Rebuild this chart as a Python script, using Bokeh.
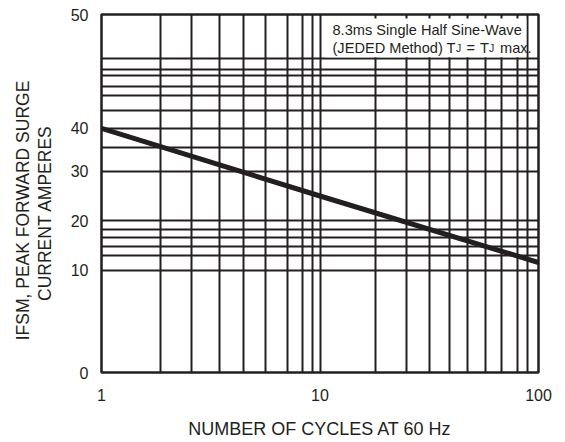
import numpy as np
from bokeh.plotting import figure
from bokeh.models import (Range1d, FixedTicker, Label, BoxAnnotation,
                          NumeralTickFormatter, LinearAxis)
from bokeh.embed import file_html
from bokeh.resources import INLINE

# ---- data ----
X_TICKS = [1, 10, 100]
X_GRID = [1.86, 2.58, 3.47, 4.47, 5.63, 7.10, 8.32, 9.24, 10,
          17.9, 24.9, 31.7, 39.1, 47.3, 57.2, 67.7, 80.2, 89.1]
Y_TICKS = [0, 10, 20, 30, 40, 50]
Y_GRID = [10, 13.0, 14.8, 16.6, 18.2, 20, 30, 35.6, 40,
          41.6, 42.9, 43.7, 44.6, 45.2, 46.1]
CURVE_X = [1, 10, 100]
CURVE_Y = [40, 25, 11.6]

# axis layout: where each labelled value sits on the (non-uniform) vertical scale
Y_TICK_POS = [0, 14.25, 21.2, 28.1, 34.1, 50]


def ypos(v):
    return [float(t) for t in np.atleast_1d(np.interp(v, Y_TICKS, Y_TICK_POS))]


INK = "#231f20"
SANS = "Liberation Sans"
NBSP = "\u00a0"

p = figure(x_axis_type="log", x_range=Range1d(1, 100), y_range=Range1d(0, 50),
           width=560, height=442,
           min_border_left=101, min_border_top=14, min_border_right=22, min_border_bottom=70,
           output_backend="svg", toolbar_location=None)
p.background_fill_color = "white"
p.border_fill_color = "white"
p.outline_line_color = INK
p.outline_line_width = 2.5
p.outline_line_alpha = 1.0

# grid
p.xgrid.ticker = FixedTicker(ticks=X_GRID, minor_ticks=[])
p.ygrid.ticker = FixedTicker(ticks=ypos(Y_GRID), minor_ticks=[])
for g in (p.xgrid, p.ygrid):
    g.grid_line_color = INK
    g.grid_line_width = 2
    g.grid_line_alpha = 1.0

xax = p.xaxis[0]
yax = p.yaxis[0]

# axes
xax.ticker = FixedTicker(ticks=X_TICKS, minor_ticks=[])
xax.formatter = NumeralTickFormatter(format="0")
xax.major_label_overrides = {t: str(t) for t in X_TICKS}
yax.ticker = FixedTicker(ticks=Y_TICK_POS, minor_ticks=[])
yax.major_label_overrides = {pos: str(lab) for pos, lab in zip(Y_TICK_POS, Y_TICKS)}

y2 = LinearAxis(ticker=FixedTicker(ticks=[], minor_ticks=[]))
p.add_layout(y2, "left")

for ax in (xax, yax, y2):
    ax.axis_line_color = None
    ax.major_tick_line_color = None
    ax.minor_tick_line_color = None
    ax.major_tick_out = 0
    ax.major_tick_in = 0
    ax.minor_tick_out = 0
    ax.minor_tick_in = 0
    ax.major_label_text_font = SANS
    ax.major_label_text_font_size = "16px"
    ax.major_label_text_color = INK
    ax.axis_label_text_font = SANS
    ax.axis_label_text_font_size = "17.5px"
    ax.axis_label_text_font_style = "normal"
    ax.axis_label_text_color = INK
xax.major_label_standoff = 16
yax.major_label_standoff = 13
y2.major_label_standoff = 0

xax.axis_label = "NUMBER OF CYCLES AT 60 Hz"
xax.axis_label_text_font_size = "18px"
xax.axis_label_standoff = 15
# trailing no-break spaces only nudge the rotated titles down to where the reference has them
yax.axis_label = "CURRENT AMPERES" + NBSP * 8
yax.axis_label_standoff = 13
y2.axis_label = "IFSM, PEAK FORWARD SURGE" + NBSP * 7
y2.axis_label_standoff = -1

# curve
p.line(CURVE_X, ypos(CURVE_Y), line_width=5, line_color=INK, line_cap="butt")

# note box
p.add_layout(BoxAnnotation(left=10.6, right=88, bottom=ypos(46.25)[0], top=ypos(49.65)[0],
                           fill_color="white", fill_alpha=1.0, line_color=None))


def lab(text, x, y, size):
    p.add_layout(Label(x=x, y=y, x_units="canvas", y_units="canvas", text=text,
                       text_font=SANS, text_font_size=size, text_color=INK,
                       text_align="left", text_baseline="alphabetic"))


L1, L2 = 29, 47.5
lab("8.3ms Single Half Sine-Wave", 332, L1, "14.6px")
lab("(JEDED Method) T", 332, L2, "14.6px")
lab("J", 455.5, L2, "10.5px")
lab("=", 466, L2, "14.6px")
lab("T", 479.5, L2, "14.6px")
lab("J", 488.5, L2, "10.5px")
lab("max.", 499.5, L2, "14.6px")

open("out.html", "w").write(file_html(p, INLINE))
